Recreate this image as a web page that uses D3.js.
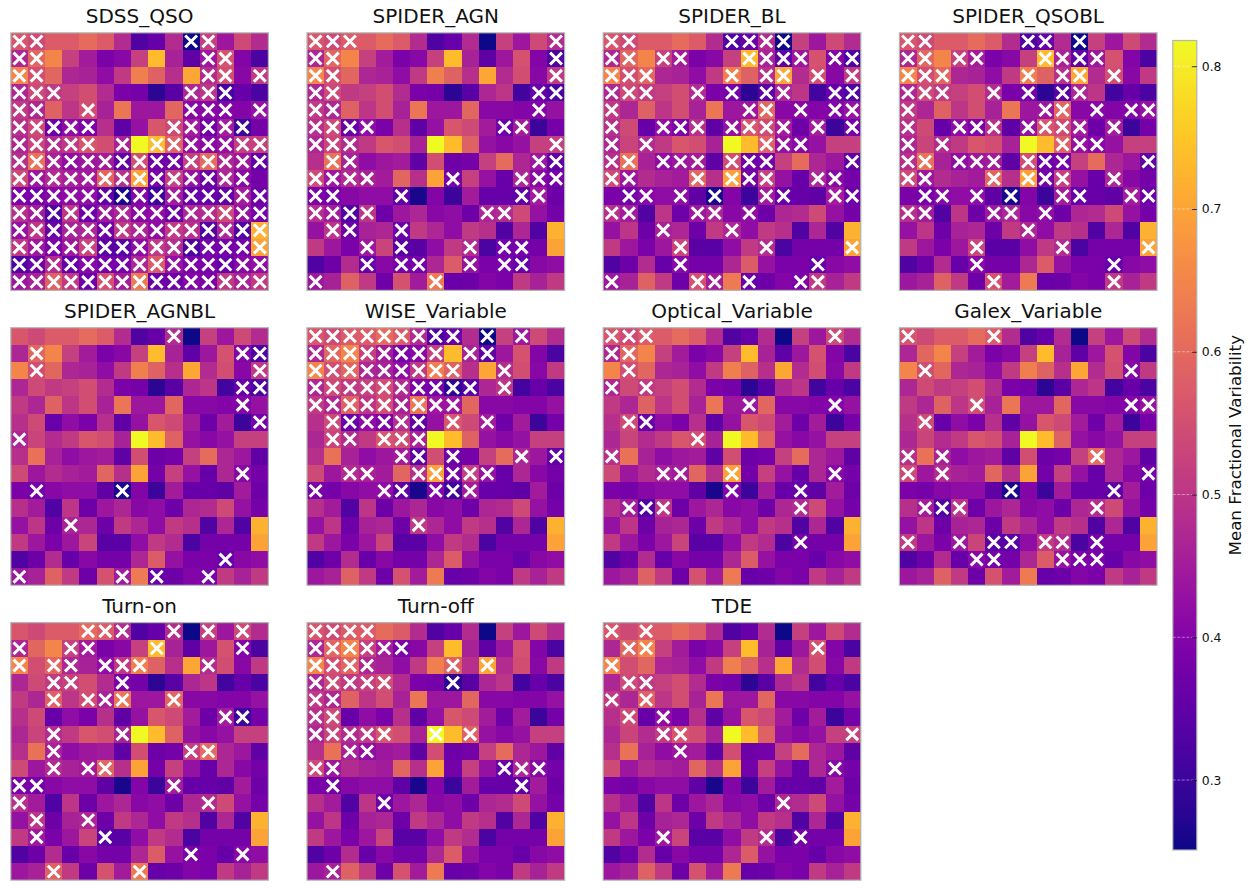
<!DOCTYPE html>
<html>
<head>
<meta charset="utf-8">
<script src="https://cdn.jsdelivr.net/npm/d3@7/dist/d3.min.js"></script>
<style>
html,body{margin:0;padding:0;background:#fff;}
svg{display:block;}
text{font-family:"DejaVu Sans",sans-serif;fill:#111;}
</style>
</head>
<body>
<div id="chart"></div>
<script>
const panelNames = ["SDSS_QSO","SPIDER_AGN","SPIDER_BL","SPIDER_QSOBL","SPIDER_AGNBL","WISE_Variable","Optical_Variable","Galex_Variable","Turn-on","Turn-off","TDE"];
const colorTicks = [0.3,0.4,0.5,0.6,0.7,0.8];
const colorLabel = "Mean Fractional Variability";
const colorMin = 0.251, colorMax = 0.818;

// Mean fractional variability per grid cell, shared by every panel
const gridValues = [
 [.565,.54,.575,.575,.605,.575,.48,.33,.36,.48,.25,.52,.44,.54,.48],
 [.47,.595,.65,.52,.45,.39,.41,.52,.735,.46,.35,.44,.555,.40,.32],
 [.65,.55,.595,.47,.46,.42,.51,.64,.585,.49,.705,.48,.55,.41,.51],
 [.47,.54,.51,.52,.55,.48,.39,.38,.28,.34,.47,.50,.31,.36,.32],
 [.51,.47,.585,.50,.55,.46,.625,.44,.44,.595,.41,.41,.40,.40,.43],
 [.49,.54,.36,.42,.39,.49,.35,.43,.565,.54,.45,.37,.45,.30,.38],
 [.47,.53,.48,.51,.565,.55,.46,.818,.735,.585,.43,.41,.43,.52,.52],
 [.49,.615,.46,.42,.44,.45,.35,.55,.37,.38,.52,.605,.47,.44,.35],
 [.54,.44,.48,.46,.45,.595,.49,.70,.38,.52,.43,.36,.47,.41,.38],
 [.39,.38,.41,.42,.42,.35,.26,.40,.30,.45,.36,.36,.35,.45,.37],
 [.49,.45,.33,.50,.37,.44,.47,.41,.42,.37,.47,.48,.54,.43,.38],
 [.43,.50,.37,.46,.47,.37,.51,.47,.42,.51,.49,.33,.47,.33,.72],
 [.51,.44,.39,.44,.53,.34,.34,.42,.51,.48,.32,.38,.38,.38,.70],
 [.33,.37,.48,.36,.41,.38,.38,.47,.575,.43,.39,.39,.36,.41,.42],
 [.44,.46,.585,.51,.37,.555,.45,.63,.36,.37,.40,.39,.51,.46,.51]
];

const all = [0,1,2,3,4,5,6,7,8,9,10,11,12,13,14];
// Column indices of the crossed cells, one list per grid row
const crossSDSS = [[0,1,10,11],[0,1,11,12],[0,1,11,12,14],[0,1,2,10,11,12],[0,1,4,10,11,12,14],[0,1,2,3,4,9,10,11,12,13],[0,1,2,3,4,6,8,9,10,11,12,13,14],all,[0,1,2,3,4,5,6,7,8,9,10,11,12,13],all,all,all,all,all,all];
const crossAGN = [[0,1,2,14],[0,1,14],[0,1,14],[0,1,13,14],[0,1,13],[0,1,2,3,11,12],[0,1,2,14],[1,2,13,14],[0,1,2,3,8,12,13,14],[0,1,5,12,13],[0,1,2,3,10,11],[1,2,5],[3,5,9,11,12],[3,5,6,9,11,12],[0,7]];
const crossBL = [[0,1,7,8,9,10],[0,1,3,4,8,9,10,11,13,14],[0,1,2,7,9,10,12,14],[0,1,2,5,7,9,10,13,14],[0,8,9,11,13,14],[0,3,4,5,7,8,9,10,12,14],[0,2,9,10,11],[0,1,3,4,5,7,8,9,14],[0,1,5,7,8,9,12,13],[1,2,4,6,9,10,13,14],[0,1,5,6,8],[3,7],[4,9,14],[4,12],[0,5,6,8,11,12]];
const crossQSOBL = [[0,1,7,8,10],[0,1,3,4,8,9,10,11],[0,1,2,7,9,10,12],[0,1,2,5,7,9,10],[0,8,9,11,13,14],[0,3,4,5,7,8,9,10,12],[0,2,9,10,11],[0,1,3,4,5,7,8,9,14],[0,1,5,7,8,9,12],[1,2,4,6,9,10,13,14],[0,1,5,6,8],[7],[4,9,14],[4,12],[5,12]];
const crossAGNBL = [[9],[1,13,14],[1,14],[13,14],[13],[14],[0],[],[13],[1,6],[],[3],[],[12],[0,6,8,11]];
const crossWISE = [[0,1,2,3,4,5,6,7,8,10,12],[0,1,2,3,4,5,6,7,9,10],[0,1,2,3,4,5,6,7,8,11],[0,1,2,3,4,5,6,7,8,9,11],[0,1,2,3,4,5,6,7,8],[1,2,3,4,5,6,8,10],[1,2,4,5,6],[5,6,8,12,14],[2,3,6,7,8,9,10],[0,4,5,7,8,9],[],[6],[],[],[]];
const crossOptical = [[0,1,2,13],[0,1],[1],[0,2],[8,13],[1,2],[5],[0],[3,4,7,13],[7,11],[1,2,3,11],[],[11],[],[]];
const crossGalex = [[0,5],[],[1,13],[],[4,13,14],[1],[],[0,2,11],[0,2,14],[6,12],[1,2,3,11],[],[0,3,5,6,8,9,11],[4,5,9,10,11],[]];
const crossTurnOn = [[4,5,6,9,11,13],[0,3,4,8,13],[0,2,3,5,6,7,11],[2,3,6],[2,4,5,6,9],[12,13],[2,6],[2,10,11],[2,4,5],[0,1,9],[0,11],[1,4],[1,5],[10,13],[2,7]];
const crossTurnOff = [[0,1,2,3],[0,1,2,3,4,5],[0,1,2,3,8,10],[0,1,2,3,4,8],[0,1],[0,1],[0,1,2,3,4,7,9],[2,3],[0,1,11,12,13],[1,12],[4],[],[],[],[1]];
const crossTDE = [[0,2],[1,2,12],[0],[1,2],[0,2],[1,3],[3,4,14],[4],[13],[],[10],[],[3,9,11],[],[]];
const panelCrosses = [crossSDSS,crossAGN,crossBL,crossQSOBL,crossAGNBL,crossWISE,crossOptical,crossGalex,crossTurnOn,crossTurnOff,crossTDE];

const W = 1255, H = 890;
const panelSize = 257.6, colStep = 296.2, rowStep = 294.9;
const left0 = 10.8, top0 = 32.8;
const spine = "#b4b4b4";

const svg = d3.select("#chart").append("svg").attr("width",W).attr("height",H).attr("viewBox",`0 0 ${W} ${H}`);
const color = d3.scaleSequential(d3.interpolatePlasma).domain([colorMin,colorMax]);
const idx = d3.range(15);
const x = d3.scaleBand().domain(idx).range([0,panelSize]);
const y = d3.scaleBand().domain(idx).range([0,panelSize]);
const cells = gridValues.flatMap((r,ri)=>r.map((v,ci)=>({r:ri,c:ci,v})));

function crossPath(cx,cy,h){
  const p = d3.path();
  p.moveTo(cx-h,cy-h); p.lineTo(cx+h,cy+h);
  p.moveTo(cx-h,cy+h); p.lineTo(cx+h,cy-h);
  return p.toString();
}

panelNames.forEach((name,i)=>{
  const g = svg.append("g").attr("transform",`translate(${left0+(i%4)*colStep},${top0+Math.floor(i/4)*rowStep})`);
  g.selectAll("rect.cell").data(cells).join("rect").attr("class","cell")
    .attr("x",d=>x(d.c)).attr("y",d=>y(d.r))
    .attr("width",x.bandwidth()).attr("height",y.bandwidth())
    .attr("shape-rendering","crispEdges")
    .attr("fill",d=>color(d.v));
  const marks = panelCrosses[i].flatMap((cols,r)=>cols.map(c=>({r,c})));
  g.selectAll("path.mark").data(marks).join("path").attr("class","mark")
    .attr("d",d=>crossPath(x(d.c)+x.bandwidth()/2,y(d.r)+y.bandwidth()/2,5.9))
    .attr("fill","none").attr("stroke","#fff").attr("stroke-width",3);
  g.append("rect").attr("width",panelSize).attr("height",panelSize)
    .attr("fill","none").attr("stroke",spine).attr("stroke-width",1.2);
  g.append("text").attr("x",panelSize/2).attr("y",-9.5).attr("text-anchor","middle")
    .attr("font-size",20).text(name);
});

// Colour bar
const barX = 1172.8, barW = 24, barTop = 40.5, barBottom = 850;
const cy = d3.scaleLinear().domain([colorMin,colorMax]).range([barBottom,barTop]);
const cb = svg.append("g");
const steps = d3.range(0,256).map(k=>colorMin+(colorMax-colorMin)*k/255);
const stepBand = d3.scaleBand().domain(steps).range([barBottom,barTop]);
cb.selectAll("rect.step").data(steps).join("rect").attr("class","step")
  .attr("x",barX).attr("width",barW)
  .attr("y",d=>stepBand(d)).attr("height",stepBand.bandwidth()+0.4)
  .attr("shape-rendering","crispEdges")
  .attr("fill",d=>color(d));
cb.selectAll("line.grid").data(colorTicks).join("line").attr("class","grid")
  .attr("x1",barX).attr("x2",barX+barW).attr("y1",d=>cy(d)).attr("y2",d=>cy(d))
  .attr("stroke","#ffffff").attr("stroke-opacity",0.55).attr("stroke-width",0.8).attr("stroke-dasharray","3,1.5");
cb.append("rect").attr("x",barX).attr("y",barTop).attr("width",barW).attr("height",barBottom-barTop)
  .attr("fill","none").attr("stroke",spine).attr("stroke-width",1.2);
const axis = d3.axisRight(cy).tickValues(colorTicks).tickFormat(d3.format(".1f")).tickSizeInner(-5).tickSizeOuter(0).tickPadding(5);
const ag = svg.append("g").attr("transform",`translate(${barX+barW},0)`).call(axis);
ag.select(".domain").remove();
ag.selectAll("line").attr("stroke","#000").attr("stroke-width",0.8);
ag.selectAll("text").attr("font-size",12.4).attr("font-family","DejaVu Sans").attr("fill","#111");
svg.append("text").attr("transform",`translate(1241,${(barTop+barBottom)/2}) rotate(-90)`)
  .attr("text-anchor","middle").attr("font-size",16.7).text(colorLabel);
</script>
</body>
</html>
